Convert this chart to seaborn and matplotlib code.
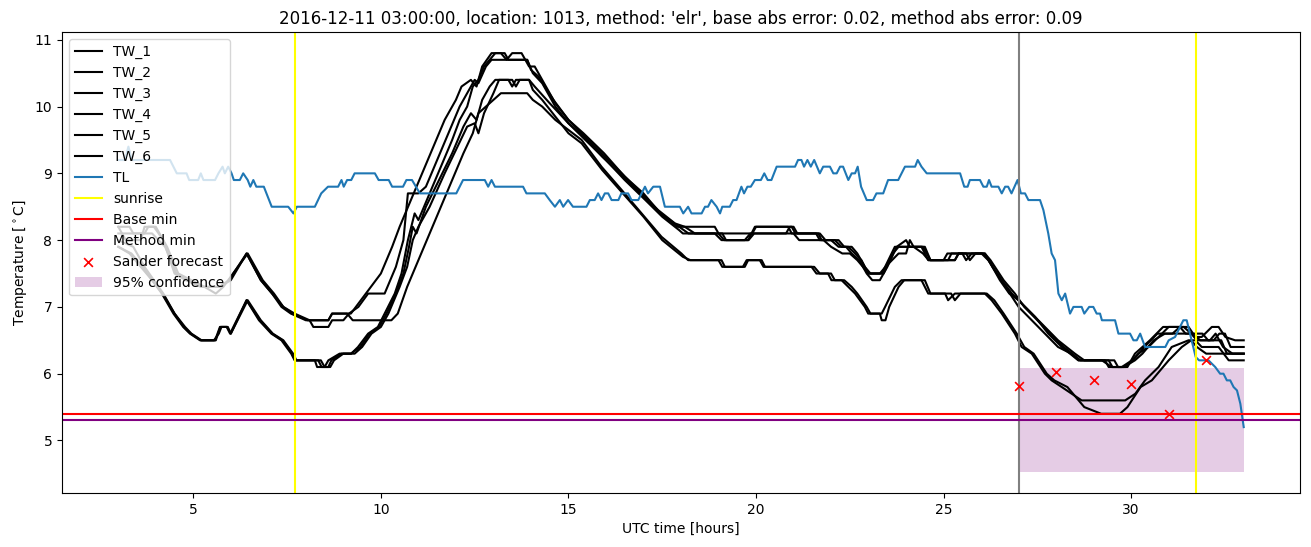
import numpy as np
import pandas as pd
import matplotlib
matplotlib.use("Agg")
import matplotlib.pyplot as plt
import seaborn as sns

# ---------------- data (hour, temperature) ----------------
tw_1 = [(3.0,8.2),(3.2,8.0),(3.6,8.0),(3.7,8.2),(3.95,8.2),(4.2,8.0),(4.5,7.5),(4.8,7.4),(5.2,7.3),(5.7,7.3),(6.0,7.4),(6.42,7.8),(6.8,7.4),(7.1,7.2),(7.35,7.0),(7.6,6.9),(8.0,6.8),(8.6,6.8),(8.7,6.9),(9.2,6.9),(9.6,7.2),(10.0,7.5),(10.3,7.9),(10.5,8.2),(10.8,8.6),(11.1,9.0),(11.4,9.4),(11.7,9.8),(12.0,10.1),(12.15,10.3),(12.4,10.4),(12.55,10.3),(12.7,10.6),(12.95,10.8),(13.2,10.8),(13.35,10.7),(13.5,10.8),(13.75,10.8),(13.95,10.6),(14.1,10.6),(14.3,10.4),(14.65,10.05),(15.0,9.8),(15.35,9.6),(15.88,9.3),(16.42,9.0),(16.95,8.7),(17.39,8.45),(17.84,8.25),(18.1,8.2),(18.37,8.1),(18.9,8.1),(19.08,8.0),(19.79,8.0),(19.97,8.2),(20.86,8.2),(20.95,8.1),(21.66,8.1),(21.75,8.0),(22.1,8.0),(22.28,7.9),(22.46,7.9),(22.64,7.8),(22.81,7.7),(22.99,7.5),(23.35,7.5),(23.44,7.6),(23.7,7.9),(24.41,7.9),(24.59,7.7),(25.12,7.7),(25.21,7.8),(26.01,7.8),(26.19,7.7),(26.55,7.4),(26.82,7.2),(27.08,7.05),(27.44,6.85),(27.79,6.6),(28.15,6.4),(28.59,6.2),(29.22,6.2),(29.48,6.1),(29.75,6.1),(30.02,6.2),(30.19,6.3),(30.46,6.4),(31.0,6.7),(31.53,6.7),(31.71,6.55),(31.88,6.55),(32.15,6.7),(32.33,6.7),(32.51,6.55),(32.77,6.5),(33.0,6.5)]

tw_2 = [(3.0,8.2),(3.3,8.2),(3.4,8.1),(3.7,8.1),(3.8,8.2),(4.0,8.2),(4.3,7.9),(4.6,7.5),(5.3,7.3),(5.6,7.2),(5.8,7.3),(6.45,7.8),(6.85,7.4),(7.15,7.2),(7.4,7.0),(7.7,6.9),(8.1,6.8),(8.2,6.7),(8.6,6.7),(8.7,6.8),(9.0,6.8),(9.15,6.9),(9.4,7.0),(9.66,7.2),(10.1,7.2),(10.4,7.6),(10.6,8.0),(10.72,8.7),(11.0,8.7),(11.2,8.8),(11.5,9.2),(11.8,9.6),(12.1,10.0),(12.3,10.2),(12.5,10.4),(12.6,10.35),(12.8,10.6),(12.95,10.7),(13.9,10.7),(14.05,10.5),(14.3,10.35),(14.65,10.0),(15.0,9.75),(15.4,9.55),(15.9,9.25),(16.45,8.95),(17.0,8.65),(17.45,8.4),(17.9,8.2),(18.9,8.2),(19.0,8.1),(19.9,8.1),(20.0,8.2),(20.95,8.2),(21.05,8.1),(21.7,8.1),(21.85,8.0),(22.2,8.0),(22.35,7.9),(22.55,7.9),(22.7,7.8),(22.9,7.6),(23.05,7.5),(23.4,7.5),(23.5,7.6),(23.75,7.9),(24.0,8.0),(24.1,7.9),(24.5,7.9),(24.65,7.7),(25.3,7.7),(25.4,7.8),(25.6,7.8),(25.7,7.7),(25.85,7.8),(26.1,7.8),(26.25,7.7),(26.6,7.4),(26.9,7.2),(27.15,7.0),(27.5,6.8),(27.85,6.6),(28.2,6.4),(28.65,6.2),(29.3,6.2),(29.4,6.1),(29.8,6.1),(30.1,6.2),(30.3,6.3),(30.6,6.5),(30.9,6.6),(31.4,6.6),(31.6,6.6),(31.75,6.5),(32.2,6.5),(32.35,6.6),(32.5,6.6),(32.65,6.4),(33.0,6.4)]

tw_3 = [(3.0,8.1),(3.9,8.1),(4.25,7.9),(4.55,7.5),(4.85,7.4),(5.25,7.3),(5.7,7.3),(5.95,7.4),(6.42,7.8),(6.8,7.4),(7.1,7.2),(7.4,7.0),(7.65,6.9),(8.05,6.8),(8.6,6.8),(8.7,6.9),(9.1,6.9),(9.25,6.8),(10.28,6.8),(10.45,6.9),(10.7,7.3),(11.0,7.7),(11.3,8.1),(11.6,8.5),(11.9,8.9),(12.2,9.3),(12.45,9.6),(12.6,9.9),(12.8,10.0),(13.0,10.1),(13.2,10.2),(13.9,10.2),(14.05,10.1),(14.3,10.0),(14.65,9.8),(15.0,9.65),(15.35,9.5),(15.88,9.1),(16.42,8.75),(16.95,8.4),(17.48,8.05),(18.01,7.8),(18.19,7.7),(19.08,7.7),(19.17,7.6),(19.7,7.6),(19.79,7.7),(20.15,7.7),(20.24,7.6),(21.48,7.6),(21.61,7.5),(21.92,7.5),(22.01,7.4),(22.28,7.4),(22.46,7.3),(22.64,7.2),(22.9,7.0),(22.99,6.9),(23.35,6.9),(23.44,7.0),(23.7,7.3),(23.88,7.4),(24.41,7.4),(24.59,7.2),(25.04,7.2),(25.12,7.1),(25.3,7.2),(26.1,7.2),(26.28,7.1),(26.55,6.9),(26.9,6.6),(27.08,6.4),(27.35,6.3),(27.7,6.0),(27.88,5.9),(28.15,5.8),(28.68,5.6),(29.84,5.6),(30.11,5.7),(30.37,5.9),(30.73,6.1),(31.08,6.4),(31.53,6.5),(31.71,6.5),(31.88,6.4),(32.33,6.4),(32.6,6.2),(33.0,6.2)]

tw_4 = [(3.0,7.9),(3.3,7.8),(3.6,7.6),(3.9,7.4),(4.16,7.2),(4.47,6.9),(4.73,6.7),(4.91,6.6),(5.18,6.5),(5.58,6.5),(5.71,6.7),(5.89,6.7),(5.98,6.6),(6.42,7.1),(6.75,6.8),(7.08,6.6),(7.35,6.5),(7.61,6.3),(7.7,6.2),(8.33,6.2),(8.42,6.1),(8.6,6.1),(8.68,6.2),(8.95,6.3),(9.21,6.3),(9.39,6.4),(9.66,6.6),(9.92,6.7),(10.1,6.9),(10.37,7.2),(10.55,7.5),(10.72,8.0),(10.81,8.2),(10.9,8.4),(11.0,8.3),(11.3,8.7),(11.6,9.1),(11.9,9.5),(12.1,9.8),(12.3,10.0),(12.45,10.3),(12.6,10.4),(12.75,10.6),(12.9,10.7),(13.05,10.8),(13.3,10.8),(13.4,10.7),(13.9,10.7),(14.0,10.55),(14.2,10.45),(14.6,10.1),(15.0,9.8),(15.4,9.6),(15.95,9.3),(16.5,8.95),(17.0,8.7),(17.45,8.4),(17.95,8.2),(18.2,8.1),(19.1,8.1),(19.2,8.0),(19.7,8.0),(19.85,8.1),(20.8,8.1),(20.9,8.2),(21.0,8.2),(21.1,8.1),(21.6,8.1),(21.7,8.0),(22.0,8.0),(22.2,7.9),(22.4,7.9),(22.55,7.8),(22.75,7.7),(22.95,7.5),(23.1,7.4),(23.3,7.4),(23.4,7.5),(23.65,7.8),(23.8,7.9),(24.45,7.9),(24.65,7.7),(25.0,7.7),(25.1,7.8),(25.5,7.8),(25.6,7.7),(25.75,7.8),(26.05,7.8),(26.2,7.7),(26.5,7.4),(26.75,7.2),(27.0,7.1),(27.35,6.9),(27.7,6.7),(28.05,6.5),(28.5,6.3),(28.75,6.2),(29.4,6.2),(29.5,6.1),(29.85,6.1),(30.05,6.2),(30.35,6.4),(30.7,6.6),(31.1,6.6),(31.3,6.7),(31.45,6.6),(31.9,6.6),(32.05,6.5),(32.4,6.5),(32.55,6.3),(33.0,6.3)]

tw_5 = [(3.0,8.0),(3.4,7.9),(3.7,7.6),(3.95,7.4),(4.2,7.2),(4.5,6.9),(4.78,6.7),(4.95,6.6),(5.22,6.5),(5.55,6.5),(5.68,6.6),(5.75,6.7),(5.92,6.7),(6.0,6.6),(6.45,7.1),(6.8,6.8),(7.12,6.6),(7.4,6.5),(7.66,6.3),(7.75,6.2),(8.24,6.2),(8.3,6.1),(8.5,6.1),(8.6,6.2),(8.9,6.3),(9.2,6.3),(9.45,6.4),(9.7,6.6),(9.95,6.7),(10.15,6.9),(10.4,7.2),(10.6,7.5),(10.75,7.9),(10.85,8.2),(10.95,8.1),(11.2,8.5),(11.55,8.9),(11.9,9.3),(12.2,9.7),(12.4,9.9),(12.55,9.8),(12.7,10.1),(12.9,10.3),(13.05,10.4),(13.4,10.4),(13.5,10.3),(13.6,10.4),(13.95,10.4),(14.1,10.3),(14.5,10.05),(15.0,9.75),(15.45,9.5),(16.0,9.2),(16.5,8.9),(17.05,8.6),(17.5,8.35),(17.95,8.15),(18.05,8.1),(19.0,8.1),(19.15,8.0),(19.8,8.0),(19.95,8.1),(21.0,8.1),(21.15,8.0),(21.8,8.0),(22.0,7.9),(22.3,7.8),(22.5,7.8),(22.7,7.7),(22.85,7.6),(23.0,7.5),(23.3,7.5),(23.45,7.6),(23.8,7.8),(24.0,7.8),(24.1,8.0),(24.2,7.9),(24.45,7.8),(24.6,7.7),(25.3,7.7),(25.4,7.8),(26.1,7.8),(26.3,7.6),(26.65,7.3),(27.0,7.0),(27.35,6.8),(27.7,6.6),(28.05,6.4),(28.4,6.3),(28.6,6.2),(29.55,6.2),(29.65,6.1),(29.9,6.1),(30.1,6.3),(30.5,6.5),(30.85,6.7),(31.4,6.7),(31.6,6.6),(31.85,6.5),(32.1,6.5),(32.25,6.6),(32.45,6.4),(32.7,6.3),(33.0,6.3)]

tw_6 = [(3.0,7.9),(3.35,7.8),(3.65,7.6),(3.9,7.4),(4.18,7.2),(4.5,6.9),(4.75,6.7),(4.93,6.6),(5.2,6.5),(5.6,6.5),(5.72,6.7),(5.9,6.7),(6.0,6.6),(6.42,7.1),(6.78,6.8),(7.1,6.6),(7.38,6.5),(7.63,6.3),(7.72,6.2),(8.4,6.2),(8.5,6.1),(8.65,6.1),(8.75,6.2),(9.0,6.3),(9.3,6.3),(9.5,6.4),(9.75,6.6),(10.0,6.7),(10.2,6.9),(10.5,7.3),(10.7,7.6),(10.85,8.0),(11.0,8.2),(11.3,8.5),(11.7,9.0),(12.0,9.35),(12.3,9.7),(12.5,9.75),(12.6,9.6),(12.75,9.9),(13.0,10.2),(13.15,10.4),(13.5,10.4),(13.6,10.3),(13.7,10.4),(13.95,10.4),(14.05,10.25),(14.3,10.1),(14.65,9.85),(15.0,9.6),(15.35,9.45),(15.9,9.05),(16.45,8.7),(17.0,8.35),(17.5,8.0),(18.05,7.75),(18.25,7.7),(19.0,7.7),(19.1,7.6),(19.65,7.6),(19.75,7.7),(20.1,7.7),(20.2,7.6),(21.55,7.6),(21.7,7.5),(22.0,7.5),(22.1,7.4),(22.35,7.4),(22.55,7.3),(22.7,7.2),(22.95,7.0),(23.05,6.9),(23.3,6.9),(23.35,6.8),(23.45,6.8),(23.55,7.0),(23.8,7.3),(23.95,7.4),(24.5,7.4),(24.65,7.2),(25.2,7.2),(25.3,7.1),(25.45,7.2),(26.15,7.2),(26.35,7.1),(26.6,6.9),(26.95,6.6),(27.15,6.4),(27.4,6.3),(27.75,6.0),(27.95,5.9),(28.3,5.8),(28.75,5.5),(29.2,5.4),(29.7,5.4),(29.9,5.5),(30.25,5.8),(30.55,5.9),(31.0,6.2),(31.35,6.4),(31.6,6.5),(31.75,6.4),(32.0,6.3),(32.5,6.3),(33.0,6.3)]

tl = [(3.0,9.2),(3.18,9.2),(3.27,9.4),(3.36,9.2),(4.38,9.2),(4.56,9.0),(4.82,9.0),(4.89,8.9),(5.13,8.9),(5.2,9.0),(5.27,8.9),(5.58,8.9),(5.67,9.0),(5.78,9.1),(5.84,9.0),(5.93,9.1),(6.02,9.0),(6.08,8.9),(6.24,8.9),(6.33,9.0),(6.45,8.9),(6.52,8.8),(6.6,8.9),(6.68,8.8),(6.88,8.8),(7.09,8.5),(7.53,8.5),(7.67,8.4),(7.76,8.5),(8.24,8.5),(8.41,8.7),(8.59,8.8),(8.86,8.8),(8.95,8.9),(9.01,8.8),(9.1,8.9),(9.21,8.9),(9.3,9.0),(9.84,9.0),(9.94,8.9),(10.21,8.9),(10.3,8.8),(10.59,8.8),(10.68,8.9),(10.83,8.9),(11.04,8.7),(12.01,8.7),(12.19,8.9),(12.77,8.9),(12.86,8.8),(12.95,8.9),(13.04,8.8),(13.79,8.8),(13.88,8.7),(14.37,8.7),(14.5,8.6),(14.64,8.5),(14.77,8.6),(14.86,8.5),(14.99,8.6),(15.12,8.5),(15.48,8.5),(15.57,8.6),(15.7,8.6),(15.79,8.7),(15.88,8.6),(15.97,8.7),(16.06,8.7),(16.15,8.6),(16.33,8.6),(16.41,8.7),(16.59,8.7),(16.68,8.6),(16.86,8.6),(17.04,8.8),(17.12,8.7),(17.26,8.8),(17.44,8.8),(17.57,8.5),(17.97,8.5),(18.06,8.4),(18.19,8.5),(18.28,8.4),(18.55,8.4),(18.64,8.5),(18.72,8.5),(18.81,8.6),(18.95,8.5),(19.04,8.4),(19.1,8.5),(19.3,8.5),(19.39,8.6),(19.48,8.6),(19.61,8.8),(19.68,8.7),(19.77,8.8),(19.86,8.8),(19.97,8.9),(20.13,8.9),(20.22,9.0),(20.31,8.9),(20.41,8.9),(20.55,9.1),(21.04,9.1),(21.12,9.2),(21.21,9.2),(21.28,9.1),(21.37,9.2),(21.46,9.1),(21.55,9.2),(21.7,9.0),(21.79,9.1),(21.97,9.1),(22.06,9.0),(22.15,9.0),(22.24,9.1),(22.32,9.1),(22.46,8.9),(22.55,9.0),(22.64,9.0),(22.71,9.1),(22.8,8.8),(22.95,8.6),(23.12,8.6),(23.21,8.7),(23.39,8.7),(23.52,8.9),(23.79,8.9),(23.97,9.1),(24.24,9.1),(24.31,9.2),(24.41,9.1),(24.55,9.0),(25.44,9.0),(25.55,8.8),(25.64,8.8),(25.7,8.9),(25.97,8.9),(26.06,8.8),(26.15,8.8),(26.21,8.9),(26.28,8.8),(26.46,8.8),(26.55,8.7),(26.64,8.8),(26.72,8.8),(26.81,8.7),(26.97,8.9),(27.06,8.7),(27.17,8.7),(27.26,8.6),(27.57,8.6),(27.66,8.45),(27.79,8.1),(27.88,7.8),(27.97,7.7),(28.06,7.2),(28.15,7.1),(28.24,7.2),(28.37,6.9),(28.46,7.0),(28.68,7.0),(28.75,6.9),(28.88,7.0),(28.99,7.0),(29.08,6.9),(29.17,6.9),(29.22,6.8),(29.57,6.8),(29.66,6.6),(29.97,6.6),(30.06,6.5),(30.15,6.5),(30.24,6.6),(30.37,6.4),(30.91,6.4),(31.0,6.5),(31.17,6.55),(31.39,6.8),(31.48,6.8),(31.72,6.25),(31.81,6.2),(31.97,6.2),(32.06,6.2),(32.24,6.1),(32.37,6.0),(32.46,6.0),(32.55,5.9),(32.64,5.9),(32.73,5.8),(32.82,5.75),(32.91,5.55),(33.0,5.2)]

sunrise_hours = [7.72, 31.72]
forecast_start = 27.0
base_min = 5.40
method_min = 5.31
sander_hours = [27, 28, 29, 30, 31, 32]
sander_temps = [5.81, 6.02, 5.90, 5.85, 5.39, 6.21]
conf_hours = [27.0, 33.0]
conf_low = 4.53
conf_high = 6.09

title = "2016-12-11 03:00:00, location: 1013, method: 'elr', base abs error: 0.02, method abs error: 0.09"

# ---------------- plot ----------------
fig = plt.figure(figsize=(13.11, 5.47), dpi=100)
ax = fig.add_axes([62/1311, 54/547, 1238/1311, 461/547])

series = [("TW_1", tw_1), ("TW_2", tw_2), ("TW_3", tw_3), ("TW_4", tw_4), ("TW_5", tw_5), ("TW_6", tw_6)]
for name, pts in series:
    df = pd.DataFrame(pts, columns=["hour", "temp"])
    sns.lineplot(data=df, x="hour", y="temp", color="black", label=name, ax=ax, sort=False, linewidth=1.5)

df_tl = pd.DataFrame(tl, columns=["hour", "temp"])
sns.lineplot(data=df_tl, x="hour", y="temp", color="#1f77b4", label="TL", ax=ax, sort=False, linewidth=1.5)

for i, h in enumerate(sunrise_hours):
    ax.axvline(h, color="yellow", label="sunrise" if i == 0 else None)
ax.axvline(forecast_start, color="gray")
ax.axhline(base_min, color="red", label="Base min")
ax.axhline(method_min, color="purple", label="Method min")

sns.scatterplot(x=sander_hours, y=sander_temps, marker="x", color="red", s=40, linewidth=1.2,
                label="Sander forecast", ax=ax, zorder=5)
ax.fill_between(conf_hours, [conf_low, conf_low], [conf_high, conf_high], color="purple", alpha=0.2,
                linewidth=0, label="95% confidence")

ax.set_xlim(1.5, 34.5)
ax.set_ylim(4.2135, 11.1165)
ax.set_xlabel("UTC time [hours]")
ax.set_ylabel(r"Temperature [$^\circ$C]")
ax.set_title(title)
ax.legend(loc="upper left")

fig.savefig("out.png", dpi=100)
